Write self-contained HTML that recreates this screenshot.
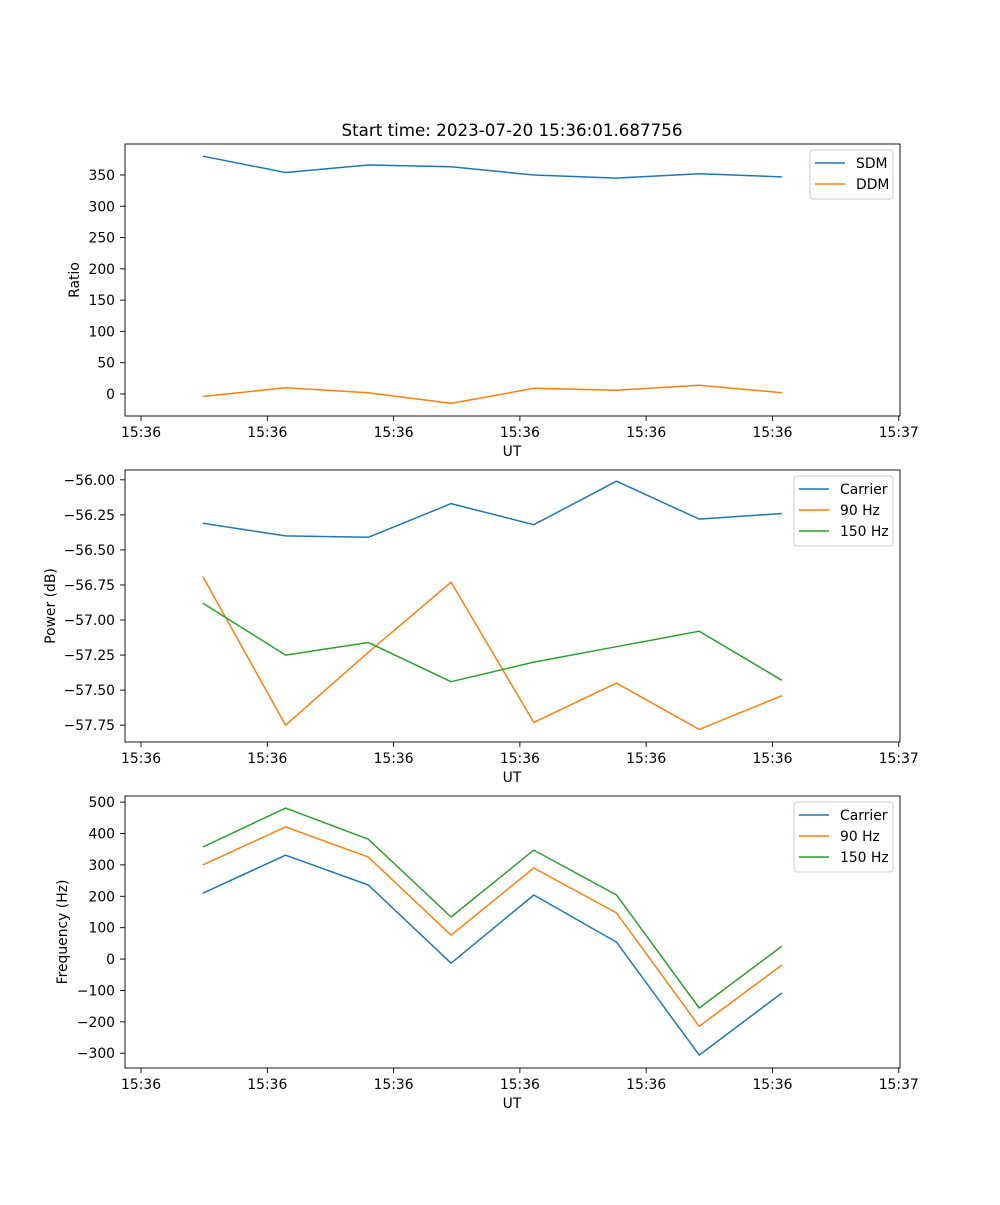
<!DOCTYPE html>
<html><head><meta charset="utf-8"><style>
html,body{margin:0;padding:0;background:#fff;}
svg text{font-family:"DejaVu Sans","Liberation Sans",sans-serif;fill:#000;}
</style></head><body>
<svg id="fig" width="1000" height="1200" viewBox="0 0 1000 1200" xmlns="http://www.w3.org/2000/svg">
<text x="512" y="136" font-size="16.7" text-anchor="middle">Start time: 2023-07-20 15:36:01.687756</text>
</svg>
<script>
// time in seconds after 15:36:00
const times = [4.9, 11.45, 18.0, 24.55, 31.1, 37.65, 44.2, 50.75];
const xTicks = [0, 10, 20, 30, 40, 50, 60];
const xTickLabels = ["15:36","15:36","15:36","15:36","15:36","15:36","15:37"];

const sdm = [380, 354, 366, 363, 350, 345, 352, 347];
const ddm = [-4, 10, 2, -15, 9, 6, 14, 2];
const ratioTicks = [0, 50, 100, 150, 200, 250, 300, 350];

const powCarrier = [-56.31, -56.40, -56.41, -56.17, -56.32, -56.01, -56.28, -56.24];
const pow90 = [-56.69, -57.75, -57.23, -56.73, -57.73, -57.45, -57.78, -57.54];
const pow150 = [-56.88, -57.25, -57.16, -57.44, -57.30, -57.19, -57.08, -57.43];
const powerTicks = [-57.75, -57.5, -57.25, -57.0, -56.75, -56.5, -56.25, -56.0];

const freqCarrier = [210, 331, 236, -13, 204, 54, -306, -108];
const freq90 = [300, 421, 325, 76, 290, 147, -214, -19];
const freq150 = [357, 481, 382, 134, 347, 204, -156, 41];
const freqTicks = [-300, -200, -100, 0, 100, 200, 300, 400, 500];

const NS = "http://www.w3.org/2000/svg";
const svg = document.getElementById('fig');
const L = 125, R = 900;
const xMin = -1.27, xMax = 60.1;
const FS = 13.9;
function xs(t){ return L + (t - xMin) / (xMax - xMin) * (R - L); }
function mk(tag, attrs, parent){
  const e = document.createElementNS(NS, tag);
  for (const k in attrs) e.setAttribute(k, attrs[k]);
  (parent || svg).appendChild(e);
  return e;
}
function fmt(v, dec){ return v.toFixed(dec).replace('-', '\u2212'); }

function panel(name, top, bottom, yMin, yMax, yTicks, dec, ylabel, ylabelX, series, legend){
  const ys = v => bottom - (v - yMin) / (yMax - yMin) * (bottom - top);
  const g = mk('g', {});
  
  
  series.forEach(s => {
    const pts = s.vals.map((v, i) => xs(times[i]).toFixed(1) + ',' + ys(v).toFixed(1)).join(' ');
    const pl = mk('polyline', {points: pts, fill: 'none', stroke: s.color, 'stroke-width': 1.5, 'stroke-linejoin': 'round'}, g);
    
    
  });
  const fr = mk('rect', {x: L, y: top, width: R - L, height: bottom - top, fill: 'none', stroke: '#000', 'stroke-width': 0.9}, g);
  
  
  xTicks.forEach((t, i) => {
    const x = xs(t);
    mk('line', {x1: x, x2: x, y1: bottom, y2: bottom + 5, stroke: '#000', 'stroke-width': 0.9}, g);
    const tx = mk('text', {x: x, y: bottom + 21, 'font-size': FS, 'text-anchor': 'middle'}, g);
    tx.textContent = xTickLabels[i];
    
    
  });
  const xl = mk('text', {x: 512, y: bottom + 40, 'font-size': FS, 'text-anchor': 'middle'}, g);
  xl.textContent = 'UT';
  
  
  yTicks.forEach(v => {
    const y = ys(v);
    mk('line', {x1: L - 5, x2: L, y1: y, y2: y, stroke: '#000', 'stroke-width': 0.9}, g);
    const tx = mk('text', {x: L - 10, y: y + 5, 'font-size': FS, 'text-anchor': 'end'}, g);
    tx.textContent = fmt(v, dec);
    
    
  });
  const cy = (top + bottom) / 2;
  const yl = mk('text', {x: ylabelX, y: cy, 'font-size': FS, 'text-anchor': 'middle', transform: 'rotate(-90 ' + ylabelX + ' ' + cy + ')'}, g);
  yl.textContent = ylabel;
  
  
  const lg = mk('g', {}, g);
  
  
  mk('rect', {x: legend.x, y: top + 6, width: 893 - legend.x, height: 7 + series.length * 21, rx: 3, fill: '#fff', 'fill-opacity': 0.8, stroke: '#ccc', 'stroke-width': 1}, lg);
  series.forEach((s, i) => {
    const y = top + 19 + i * 21;
    mk('line', {x1: legend.x + 5, x2: legend.x + 35, y1: y, y2: y, stroke: s.color, 'stroke-width': 1.5}, lg);
    const t = mk('text', {x: legend.x + 46, y: y + 5, 'font-size': FS}, lg);
    t.textContent = s.label;
    
    
  });
}

const C1 = '#1f77b4', C2 = '#ff7f0e', C3 = '#2ca02c';
panel('ratio', 144, 416, -35.2, 399.5, ratioTicks, 0, 'Ratio', 79,
  [{key:'sdm', label:'SDM', vals: sdm, color: C1}, {key:'ddm', label:'DDM', vals: ddm, color: C2}], {x: 810});
panel('power', 470, 742, -57.87, -55.93, powerTicks, 2, 'Power (dB)', 55,
  [{key:'carrier', label:'Carrier', vals: powCarrier, color: C1}, {key:'90hz', label:'90 Hz', vals: pow90, color: C2}, {key:'150hz', label:'150 Hz', vals: pow150, color: C3}], {x: 794});
panel('frequency', 796, 1068, -347, 519.5, freqTicks, 0, 'Frequency (Hz)', 67,
  [{key:'carrier', label:'Carrier', vals: freqCarrier, color: C1}, {key:'90hz', label:'90 Hz', vals: freq90, color: C2}, {key:'150hz', label:'150 Hz', vals: freq150, color: C3}], {x: 794});
</script>
</body></html>
